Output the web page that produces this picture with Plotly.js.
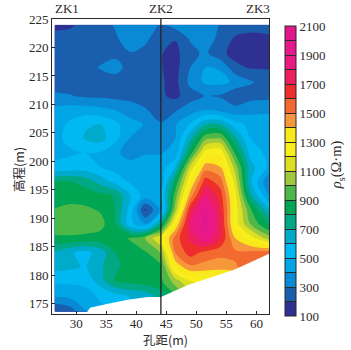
<!DOCTYPE html>
<html><head><meta charset="utf-8">
<script src="https://cdn.plot.ly/plotly-3.0.1.min.js"></script>
<style>html,body{margin:0;padding:0;background:#fff}#c{width:351px;height:350px}</style>
</head><body><div id="c"></div>
<script>
const holeSpacing = [26.4,29,31.5,34,36.5,39,41.5,44.1,46.5,49,51.5,54,56.5,59,62.1];
const elevations = [224,221.5,219,216.5,214,211.5,209,206.5,204,201.5,199,196.5,194,191.5,189,186.5,184,181.5,179,176.5,173.6];
const r224 = [170,185,230,260,310,360,370,285,340,360,370,290,250,230,220];
const r221 = [240,240,250,260,285,350,320,240,205,310,370,260,185,175,190];
const r219 = [250,255,260,270,280,295,270,205,170,270,320,225,165,160,175];
const r216 = [240,255,270,305,330,270,250,205,165,300,400,390,225,190,190];
const r214 = [240,250,255,265,265,255,245,210,170,330,420,430,380,310,260];
const r211 = [320,305,285,280,270,260,250,215,175,260,305,290,215,260,270];
const r209 = [430,450,450,430,400,360,310,250,290,350,400,370,340,370,380];
const r206 = [450,520,590,600,530,430,395,310,390,510,690,700,540,470,460];
const r204 = [480,520,610,640,530,395,340,340,400,680,980,1010,720,500,480];
const r201 = [480,490,500,490,410,380,395,395,430,850,1250,1280,880,560,470];
const r199 = [520,530,540,500,460,420,430,440,600,1130,1450,1400,1050,640,480];
const r196 = [800,800,760,660,560,480,450,430,820,1290,1650,1550,1150,620,300];
const r194 = [850,855,850,830,790,600,450,480,950,1450,1820,1650,1230,720,400];
const r191 = [905,930,920,890,800,560,180,420,1050,1680,2000,1700,1250,920,620];
const r189 = [970,975,965,935,820,530,400,760,1300,1800,2050,1720,1250,1000,780];
const r186 = [880,880,870,860,850,910,1000,1200,1550,1720,1900,1700,1400,1250,1050];
const r184 = [690,610,570,640,800,850,890,1010,1500,1650,1570,1530,1520,1530,1550];
const r181 = [640,620,590,680,780,840,870,880,1330,1480,1460,1450,1490,1550,1650];
const r179 = [520,520,530,650,810,840,860,880,1050,1200,1230,1220,1200,1300,1500];
const r176 = [420,440,460,520,570,610,650,750,900,1050,1100,1100,1100,1200,1400];
const r173 = [190,240,390,470,500,540,580,650,800,950,1000,1000,1000,1100,1300];
const resistivity = [r224,r221,r219,r216,r214,r211,r209,r206,r204,r201,r199,r196,r194,r191,r189,r186,r184,r181,r179,r176,r173];

const bandColors = ['#2e3192','#1a5fae','#0a8ad4','#00a6e6','#00b9f2','#00aacb','#00a884','#00a651','#4cb848','#a0c83c',
  '#dde020','#f8ee1c','#f8e81c','#f5973a','#f26a30','#ee2d2d','#ed1f5f','#ea1a80','#e8188a','#e0188a'];
const colorTicks = [100,200,300,400,500,600,700,800,900,1000,1100,1200,1300,1400,1500,1600,1700,1800,1900,2000,2100];
const colorLabels = ['100','','300','','500','','700','','900','','1100','','1300','','1500','','1700','','1900','','2100'];

const blankX = [31.6,32.3,35.3,38.6,41.9,44.1,48.6,56.4,62.1,62.1,31.6];
const blankY = [173.2,174.3,175,175.7,176.2,176.2,178.3,181,183.8,173.2,173.2];
const boreX = [44.1,44.1];
const boreY = [225,173.2];
const boreNames = ['ZK1','ZK2','ZK3'];
const boreLabelX = [28.5,44.1,60.2];
const xTicks = [30,35,40,45,50,55,60];
const yTicks = [175,180,185,190,195,200,205,210,215,220,225];

const serif = 'Liberation Serif, Times New Roman, serif';
const cjk = 'Noto Sans CJK SC, serif';
const ink = '#2b2829';
const colorscale = [[0,bandColors[0]]];
bandColors.forEach((c,i)=>colorscale.push([(i+0.5)/20,c]));
colorscale.push([1,bandColors[19]]);

const traces = [
 {type:'contour',x:holeSpacing,y:elevations,z:resistivity,zmin:100,zmax:2100,zauto:false,colorscale,
  autocontour:false,contours:{start:100,end:2100,size:100,coloring:'fill',showlines:false},line:{width:0,smoothing:1},
  hoverinfo:'skip',
  colorbar:{thicknessmode:'pixels',thickness:10.6,lenmode:'pixels',len:290,xref:'paper',yref:'paper',x:1.0745,xanchor:'left',y:0.976,yanchor:'top',
    xpad:0,ypad:0,outlinewidth:1,outlinecolor:ink,tickmode:'array',tickvals:colorTicks,ticktext:colorLabels,ticks:'inside',ticklen:11,tickwidth:1,tickcolor:ink,
    tickfont:{family:serif,size:13,color:ink}}},
 {type:'scatter',mode:'lines',x:blankX,y:blankY,fill:'toself',fillcolor:'#ffffff',line:{width:0},showlegend:false,hoverinfo:'skip'},
 {type:'scatter',mode:'lines',x:boreX,y:boreY,line:{color:'#222',width:1.3},showlegend:false,hoverinfo:'skip'}
];
const annotations = boreNames.map((t,i)=>({text:t,x:boreLabelX[i],xref:'x',y:1.006,yref:'paper',yanchor:'bottom',showarrow:false,xanchor:'center',
  font:{family:serif,size:13,color:ink},borderpad:0}));
annotations.push({text:'<i>ρ</i><sub>s</sub>(Ω·m)',textangle:-90,xref:'paper',yref:'paper',x:(338-52)/217.5,y:(314.3-165)/295.3,showarrow:false,xanchor:'center',yanchor:'middle',
  font:{family:serif,size:14.5,color:ink}});
annotations.push({text:'孔距(m)',xref:'paper',yref:'paper',x:(166-52)/217.5,y:(314.3-340)/295.3,showarrow:false,xanchor:'center',yanchor:'middle',
  font:{family:cjk,size:12.5,color:ink}});
annotations.push({text:'高程(m)',textangle:-90,xref:'paper',yref:'paper',x:(19-52)/217.5,y:(314.3-170)/295.3,showarrow:false,xanchor:'center',yanchor:'middle',
  font:{family:cjk,size:12.5,color:ink}});
const axisCommon = {showgrid:false,zeroline:false,showline:true,linecolor:ink,linewidth:1,mirror:true,ticks:'inside',ticklen:3,tickwidth:1,tickcolor:ink,
  tickfont:{family:serif,size:13,color:ink},tickmode:'array'};
const layout = {width:351,height:350,margin:{l:52,r:81.5,t:19,b:35.7,autoexpand:false},paper_bgcolor:'#fff',plot_bgcolor:'#fff',showlegend:false,
 xaxis:Object.assign({},axisCommon,{range:[25.97,62.1],tickvals:xTicks,ticktext:xTicks.map(String),ticklabelstandoff:-3}),
 yaxis:Object.assign({},axisCommon,{range:[173.2,225],tickvals:yTicks,ticktext:yTicks.map(String)}),
 annotations};
Plotly.newPlot('c',traces,layout,{displayModeBar:false,staticPlot:true});
</script></body></html>
